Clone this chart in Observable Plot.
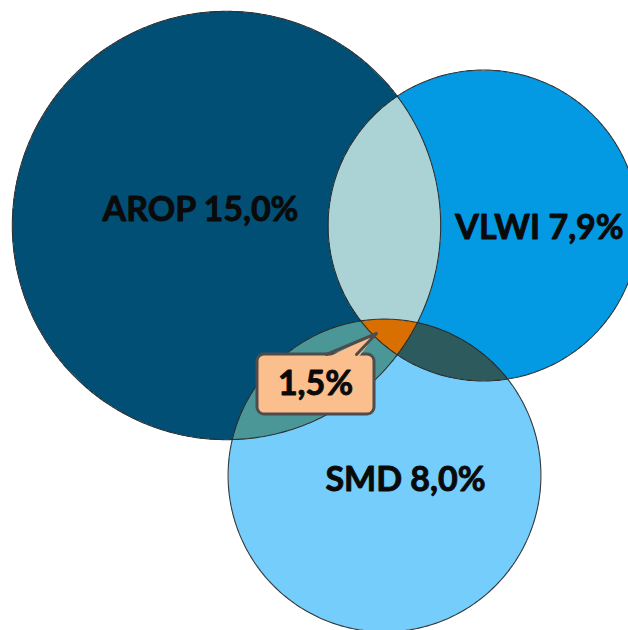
<!DOCTYPE html>
<html>
<head>
<meta charset="utf-8">
<script src="https://cdn.jsdelivr.net/npm/d3@7"></script>
<script src="https://cdn.jsdelivr.net/npm/@observablehq/plot@0.6"></script>
<style>
  html, body { margin: 0; padding: 0; background: #ffffff; }
  #chart svg { display: block; }
</style>
</head>
<body>
<div id="chart"></div>
<script>
// ---- data ----
const sets = ["AROP", "VLWI", "SMD"];
const shares = [15.0, 7.9, 8.0];          // % of population in each set
const shareLabels = ["15,0%", "7,9%", "8,0%"];
const tripleShare = 1.5;                   // AROP & VLWI & SMD
const tripleLabel = "1,5%";

// ---- layout (virtual 628 x 630 canvas; circle area proportional to share) ----
const unit = 55.3;                          // radius units per sqrt(share)
const centerX = [226, 483, 384];
const centerY = [225, 225, 475];
const labelX = [200, 539, 405];
const labelY = [210, 228, 480];
const callout = {x1: 257, x2: 374, y1: 354, y2: 414, textX: 315, textY: 384};
const pointerFill = [{x: 325, y: 358}, {x: 376, y: 333}, {x: 357, y: 358}];
const pointerEdge = [{x: 326, y: 354}, {x: 376, y: 333}, {x: 356, y: 354}];

// ---- styles ----
const regionKeys = ["none", "AROP", "VLWI", "SMD", "AROP&VLWI", "AROP&SMD", "VLWI&SMD", "AROP&VLWI&SMD"];
const regionColors = ["#ffffff", "#024f76", "#0399e3", "#74cdfb", "#abd3d5", "#4b9696", "#2d5a5c", "#d96f00"];

const circles = sets.map((s, i) => ({set: s, share: shares[i], cx: centerX[i], cy: centerY[i], r: unit * Math.sqrt(shares[i])}));

function region(x, y) {
  const inside = circles.filter(c => (x - c.cx) ** 2 + (y - c.cy) ** 2 <= c.r * c.r).map(c => c.set);
  return inside.length ? inside.join("&") : "none";
}

const outlinePts = circles.flatMap(c => d3.range(0, 361).map(a => ({
  set: c.set,
  x: c.cx + c.r * Math.cos(a * Math.PI / 180),
  y: c.cy + c.r * Math.sin(a * Math.PI / 180)
})));

const labels = sets.map((s, i) => ({text: `${s} ${shareLabels[i]}`, x: labelX[i], y: labelY[i]}));

const font = "Lato, 'Open Sans', sans-serif";
const textStyle = {x: "x", y: "y", text: "text", fontSize: 34, fontWeight: "bold", fontFamily: font,
  fill: "#0a0a0a", stroke: "#0a0a0a", strokeWidth: 0.9, textAnchor: "middle"};

const chart = Plot.plot({
  width: 628,
  height: 630,
  margin: 0,
  x: {domain: [0, 628], range: [0, 628], axis: null},
  y: {domain: [0, 630], range: [0, 630], axis: null},
  color: {type: "ordinal", domain: regionKeys, range: regionColors},
  style: {background: "#ffffff"},
  marks: [
    Plot.raster({x1: 0, x2: 628, y1: 0, y2: 630, width: 628, height: 630, fill: region, imageRendering: "auto"}),
    Plot.line(outlinePts, {x: "x", y: "y", z: "set", stroke: "#262626", strokeWidth: 1.1, strokeOpacity: 0.9}),
    Plot.text(labels, textStyle),
    Plot.rect([callout], {x1: "x1", x2: "x2", y1: "y1", y2: "y2", rx: 7, fill: "#fbbf8e", stroke: "#4d4d4d", strokeWidth: 3}),
    Plot.line(pointerFill, {x: "x", y: "y", fill: "#fbbf8e", stroke: "none"}),
    Plot.line(pointerEdge, {x: "x", y: "y", stroke: "#4d4d4d", strokeWidth: 3, strokeLinejoin: "round"}),
    Plot.text([{text: tripleLabel, x: callout.textX, y: callout.textY, v: tripleShare}], textStyle)
  ]
});
document.getElementById("chart").appendChild(chart);
</script>
</body>
</html>
